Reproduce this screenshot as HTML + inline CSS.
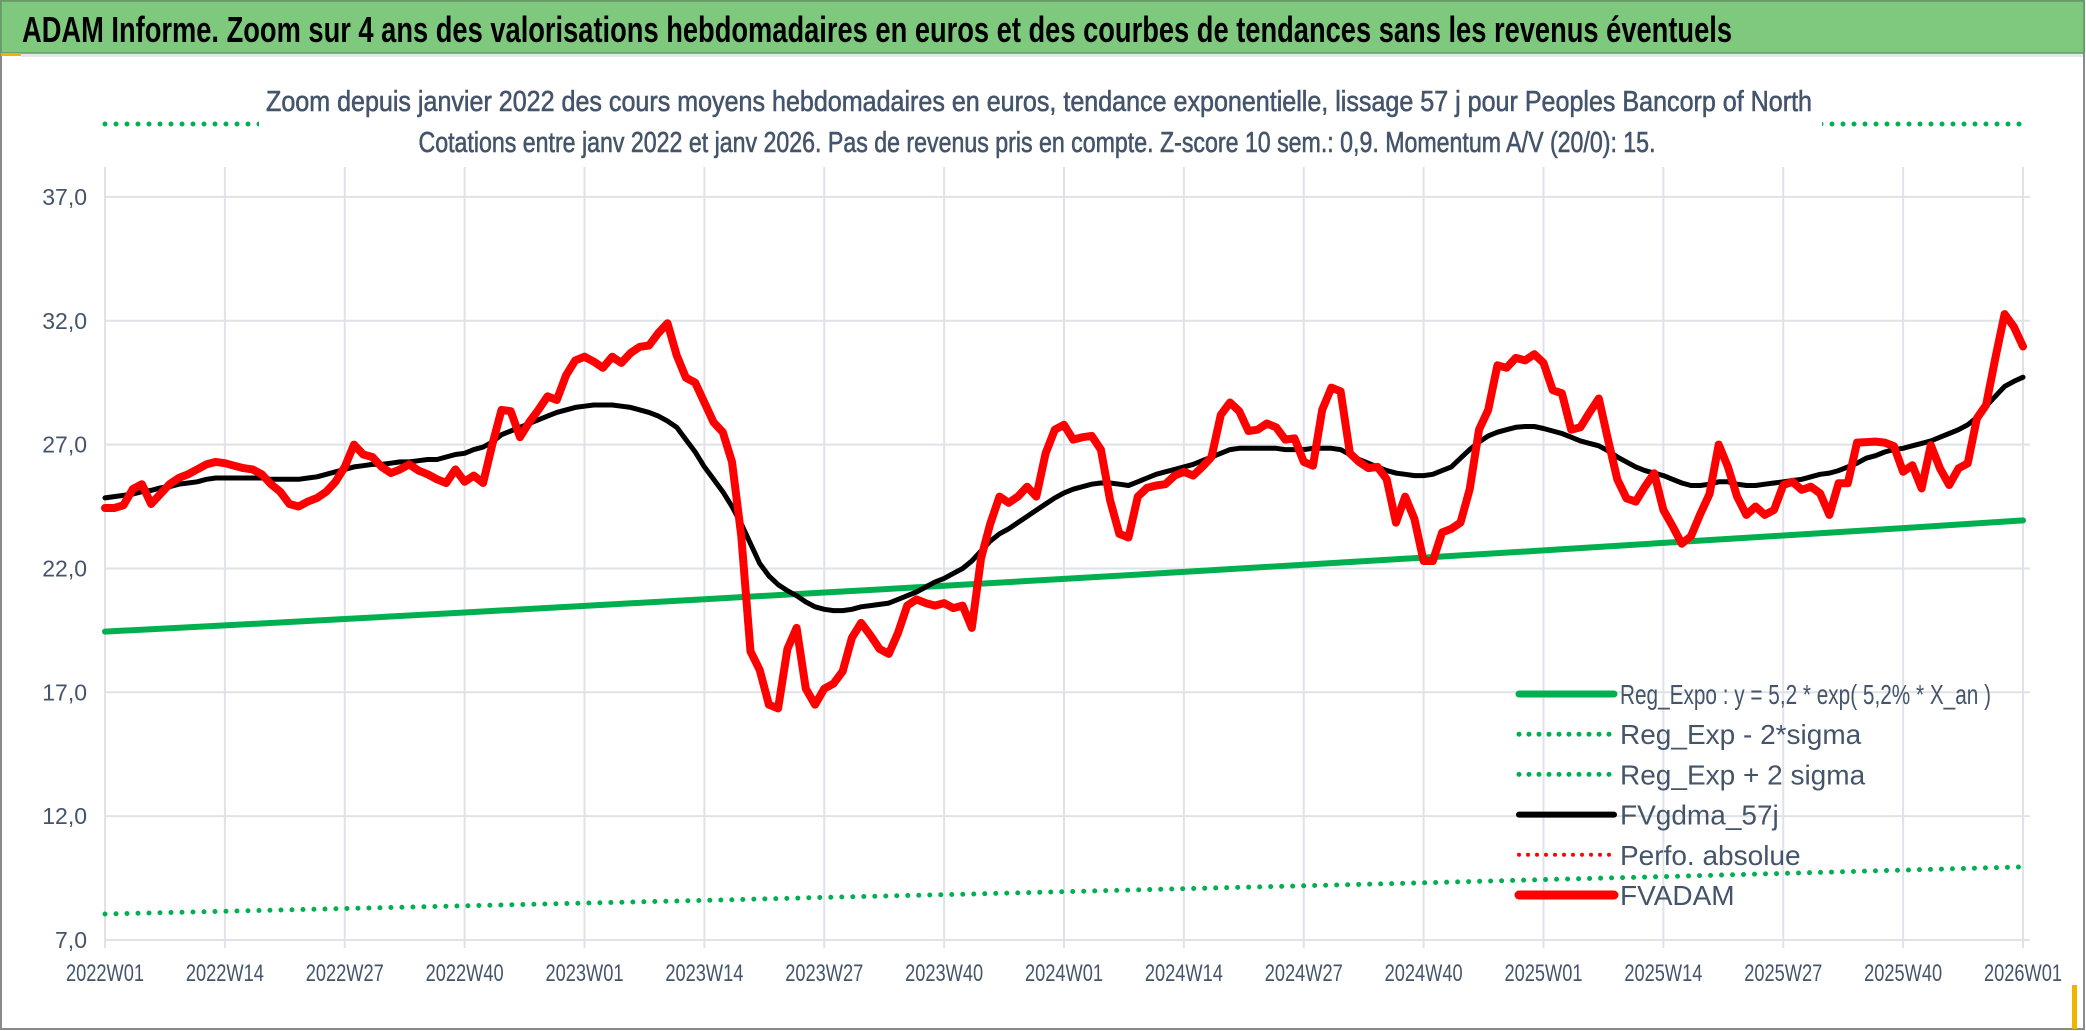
<!DOCTYPE html>
<html><head><meta charset="utf-8"><title>ADAM Informe</title>
<style>
html,body{margin:0;padding:0;background:#fff;}
svg{display:block;}
text{font-family:"Liberation Sans",sans-serif;}
</style></head>
<body>
<svg id="chart" width="2086" height="1031" viewBox="0 0 2086 1031" xmlns="http://www.w3.org/2000/svg">
  <rect x="0" y="0" width="2086" height="1031" fill="#ffffff"/>
  <rect x="1" y="1" width="2083" height="1028" fill="#ffffff" stroke="#8a8a8a" stroke-width="2"/>
  <rect x="1" y="1" width="2083" height="52" fill="#7fc97f" stroke="#5f9a5f" stroke-width="1.5"/>
  <rect x="1" y="53" width="20" height="3" fill="#f0b400"/>
  <rect x="21" y="54" width="2062" height="3" fill="#e3e6ea"/>
  <rect x="2072" y="985" width="5" height="44" fill="#f0b400"/>
  <text x="22" y="42" font-size="36" font-weight="bold" fill="#000" textLength="1710" lengthAdjust="spacingAndGlyphs">ADAM Informe. Zoom sur 4 ans des valorisations hebdomadaires en euros et des courbes de tendances sans les revenus éventuels</text>
  <g id="grid"></g>
  <g id="series"></g>
  <rect x="259" y="80" width="1563" height="80" fill="#ffffff"/>
  <text x="1039" y="111" font-size="29" fill="#44546a" stroke="#44546a" stroke-width="0.6" text-anchor="middle" textLength="1546" lengthAdjust="spacingAndGlyphs">Zoom depuis janvier 2022 des cours moyens hebdomadaires en euros, tendance exponentielle, lissage 57 j pour Peoples Bancorp of North</text>
  <text x="1037" y="152" font-size="29" fill="#44546a" stroke="#44546a" stroke-width="0.6" text-anchor="middle" textLength="1237" lengthAdjust="spacingAndGlyphs">Cotations entre janv 2022 et janv 2026. Pas de revenus pris en compte. Z-score 10 sem.: 0,9. Momentum A/V (20/0): 15.</text>
  <g id="axes"></g>
  <g id="legend"></g>
</svg>
<script>
const xLabels = ["2022W01","2022W14","2022W27","2022W40","2023W01","2023W14","2023W27","2023W40","2024W01","2024W14","2024W27","2024W40","2025W01","2025W14","2025W27","2025W40","2026W01"];
const yTicks = [7,12,17,22,27,32,37];
const yTickLabels = ["7,0","12,0","17,0","22,0","27,0","32,0","37,0"];
const fvadam = [24.44,24.44,24.55,25.2,25.4,24.6,25.0,25.4,25.65,25.8,26.0,26.2,26.3,26.25,26.15,26.05,26.0,25.8,25.4,25.1,24.6,24.5,24.7,24.85,25.1,25.5,26.1,27.0,26.6,26.5,26.1,25.85,26.0,26.2,25.95,25.8,25.6,25.45,26.0,25.5,25.75,25.45,27.0,28.4,28.35,27.3,27.9,28.4,28.95,28.8,29.8,30.4,30.55,30.35,30.1,30.55,30.3,30.7,30.95,31.0,31.5,31.9,30.6,29.7,29.5,28.7,27.9,27.5,26.3,23.3,18.65,17.9,16.5,16.35,18.75,19.6,17.15,16.5,17.15,17.35,17.85,19.2,19.8,19.3,18.75,18.55,19.4,20.5,20.75,20.6,20.5,20.6,20.4,20.5,19.6,22.4,23.8,24.9,24.65,24.9,25.3,24.9,26.65,27.6,27.8,27.2,27.3,27.35,26.8,24.75,23.4,23.25,24.9,25.25,25.35,25.4,25.75,25.9,25.75,26.1,26.5,28.2,28.7,28.35,27.55,27.6,27.85,27.7,27.2,27.25,26.3,26.15,28.4,29.3,29.15,26.65,26.3,26.05,26.1,25.6,23.85,24.9,24.0,22.3,22.3,23.45,23.6,23.85,25.2,27.6,28.4,30.2,30.1,30.5,30.4,30.65,30.3,29.2,29.07,27.6,27.7,28.3,28.86,27.2,25.6,24.83,24.7,25.3,25.84,24.36,23.7,23.0,23.3,24.2,25.0,27.0,26.1,24.9,24.16,24.5,24.16,24.36,25.37,25.5,25.17,25.3,25.03,24.16,25.44,25.44,27.08,27.1,27.12,27.08,26.94,25.9,26.17,25.23,26.98,26.04,25.37,26.04,26.24,28.06,28.6,30.48,32.27,31.76,30.96];
const fvgdma = [24.85,24.9,24.95,25.0,25.1,25.15,25.25,25.3,25.4,25.45,25.5,25.6,25.65,
25.65,25.65,25.65,25.65,25.65,25.6,25.6,25.6,25.6,25.65,25.7,25.8,25.9,
26.0,26.1,26.15,26.2,26.2,26.25,26.3,26.3,26.35,26.4,26.4,26.5,26.6,
26.65,26.8,26.9,27.1,27.4,27.55,27.7,27.85,28.0,28.15,28.3,28.4,28.5,
28.55,28.6,28.6,28.6,28.55,28.5,28.4,28.3,28.15,27.95,27.7,27.2,26.7,
26.1,25.6,25.1,24.5,23.8,23.0,22.2,21.7,21.35,21.1,20.9,20.65,20.45,
20.35,20.3,20.3,20.35,20.45,20.5,20.55,20.6,20.75,20.9,21.05,21.25,21.45,
21.6,21.8,22.0,22.3,22.7,23.1,23.4,23.6,23.85,24.1,24.35,24.6,24.85,
25.05,25.2,25.3,25.4,25.45,25.45,25.4,25.35,25.5,25.65,25.8,25.9,26.0,
26.1,26.2,26.35,26.5,26.65,26.8,26.85,26.85,26.85,26.85,26.85,26.8,26.8,
26.8,26.85,26.85,26.85,26.8,26.6,26.4,26.25,26.1,25.95,25.85,25.8,25.75,
25.75,25.8,25.95,26.1,26.45,26.8,27.1,27.35,27.5,27.6,27.7,27.73,27.73,
27.65,27.55,27.45,27.3,27.15,27.05,26.95,26.75,26.5,26.3,26.1,25.95,25.85,
25.75,25.6,25.45,25.35,25.35,25.4,25.5,25.5,25.4,25.35,25.35,25.4,25.45,
25.5,25.55,25.6,25.7,25.8,25.85,25.95,26.1,26.25,26.45,26.55,26.7,26.8,
26.85,26.95,27.05,27.15,27.3,27.45,27.6,27.8,28.1,28.55,28.95,29.35,29.55,29.72];
const regExpo = [19.45,19.70,19.96,20.22,20.49,20.76,21.03,21.30,21.58,21.86,22.15,22.44,22.73,23.03,23.33,23.63,23.94];
const regLow = [8.05,8.16,8.27,8.38,8.49,8.60,8.72,8.83,8.95,9.07,9.19,9.31,9.44,9.56,9.69,9.82,9.95];
const regHigh = [47.0,47.6,48.2,48.8,49.4,50.1,50.7,51.4,52.0,52.7,53.4,54.1,54.8,55.5,56.2,56.9,57.6];

const NS = "http://www.w3.org/2000/svg";
const X0 = 105, X1 = 2023, Y0 = 940, PX = 24.77, TOPCLIP = 124;
const nPts = fvadam.length;
const xs = i => X0 + i * (X1 - X0) / (nPts - 1);
const ys = v => Y0 - (v - 7) * PX;
const tickIndex = k => k * 13;
function mk(tag, attrs, parent){ const e = document.createElementNS(NS, tag); for (const k in attrs) e.setAttribute(k, attrs[k]); parent.appendChild(e); return e; }

const grid = document.getElementById('grid');
const axes = document.getElementById('axes');
const series = document.getElementById('series');
const legend = document.getElementById('legend');

yTicks.forEach((v, k) => {
  const l = mk('line', {x1: X0, x2: 2030, y1: ys(v), y2: ys(v), stroke: '#dfe2e7', 'stroke-width': 2}, grid);
  
  
  const t = mk('text', {x: 87, y: ys(v) + 8, 'font-size': 23, fill: '#44546a', 'text-anchor': 'end'}, axes);
  t.textContent = yTickLabels[k];
  
  
});
xLabels.forEach((lab, k) => {
  const x = xs(tickIndex(k));
  const l = mk('line', {x1: x, x2: x, y1: 167, y2: 948, stroke: '#dfe2e7', 'stroke-width': 2}, grid);
  
  
  const t = mk('text', {x: x, y: 981, 'font-size': 24, fill: '#44546a', 'text-anchor': 'middle', textLength: 78, lengthAdjust: 'spacingAndGlyphs'}, axes);
  t.textContent = lab;
  
  
});

function pathFrom(vals, idxFn){ return vals.map((v, i) => (i ? 'L' : 'M') + xs(idxFn(i)).toFixed(1) + ' ' + Math.max(ys(v), TOPCLIP).toFixed(1)).join(' '); }

const pHigh = mk('path', {d: pathFrom(regHigh, tickIndex), fill: 'none', stroke: '#00b050', 'stroke-width': 5, 'stroke-linecap': 'round', 'stroke-dasharray': '0 11'}, series);


const pLow = mk('path', {d: pathFrom(regLow, tickIndex), fill: 'none', stroke: '#00b050', 'stroke-width': 5, 'stroke-linecap': 'round', 'stroke-dasharray': '0 11'}, series);


const pReg = mk('path', {d: pathFrom(regExpo, tickIndex), fill: 'none', stroke: '#00b050', 'stroke-width': 6, 'stroke-linecap': 'round'}, series);


const pBlack = mk('path', {d: pathFrom(fvgdma, i => i), fill: 'none', stroke: '#000', 'stroke-width': 5, 'stroke-linejoin': 'round', 'stroke-linecap': 'round'}, series);


const pRed = mk('path', {d: pathFrom(fvadam, i => i), fill: 'none', stroke: '#ff0000', 'stroke-width': 8, 'stroke-linejoin': 'round', 'stroke-linecap': 'round'}, series);



const legendItems = [
  {label: 'Reg_Expo : y = 5,2 * exp( 5,2% *  X_an )', color: '#00b050', w: 7, dash: null, name: 'legend-reg-expo'},
  {label: 'Reg_Exp - 2*sigma', color: '#00b050', w: 5, dash: '0 10', name: 'legend-reg-minus-sigma'},
  {label: 'Reg_Exp + 2 sigma', color: '#00b050', w: 5, dash: '0 10', name: 'legend-reg-plus-sigma'},
  {label: 'FVgdma_57j', color: '#000000', w: 6, dash: null, name: 'legend-fvgdma'},
  {label: 'Perfo. absolue', color: '#ff0000', w: 4, dash: '0 9', name: 'legend-perfo-absolue'},
  {label: 'FVADAM', color: '#ff0000', w: 9, dash: null, name: 'legend-fvadam'}
];
legendItems.forEach((it, k) => {
  const y = 694 + k * 40.2;
  const g = mk('g', {}, legend);
  
  
  const a = {x1: 1519, x2: 1614, y1: y, y2: y, stroke: it.color, 'stroke-width': it.w, 'stroke-linecap': 'round'};
  if (it.dash) a['stroke-dasharray'] = it.dash;
  const l = mk('line', a, g);
  
  
  const t = mk('text', {x: 1620, y: y + 10, 'font-size': 28, fill: '#44546a'}, g);
  t.textContent = it.label;
  
  
});
const lbl0 = legend.querySelector('text');
lbl0.setAttribute('textLength', 371);
lbl0.setAttribute('lengthAdjust', 'spacingAndGlyphs');
</script>
</body></html>
